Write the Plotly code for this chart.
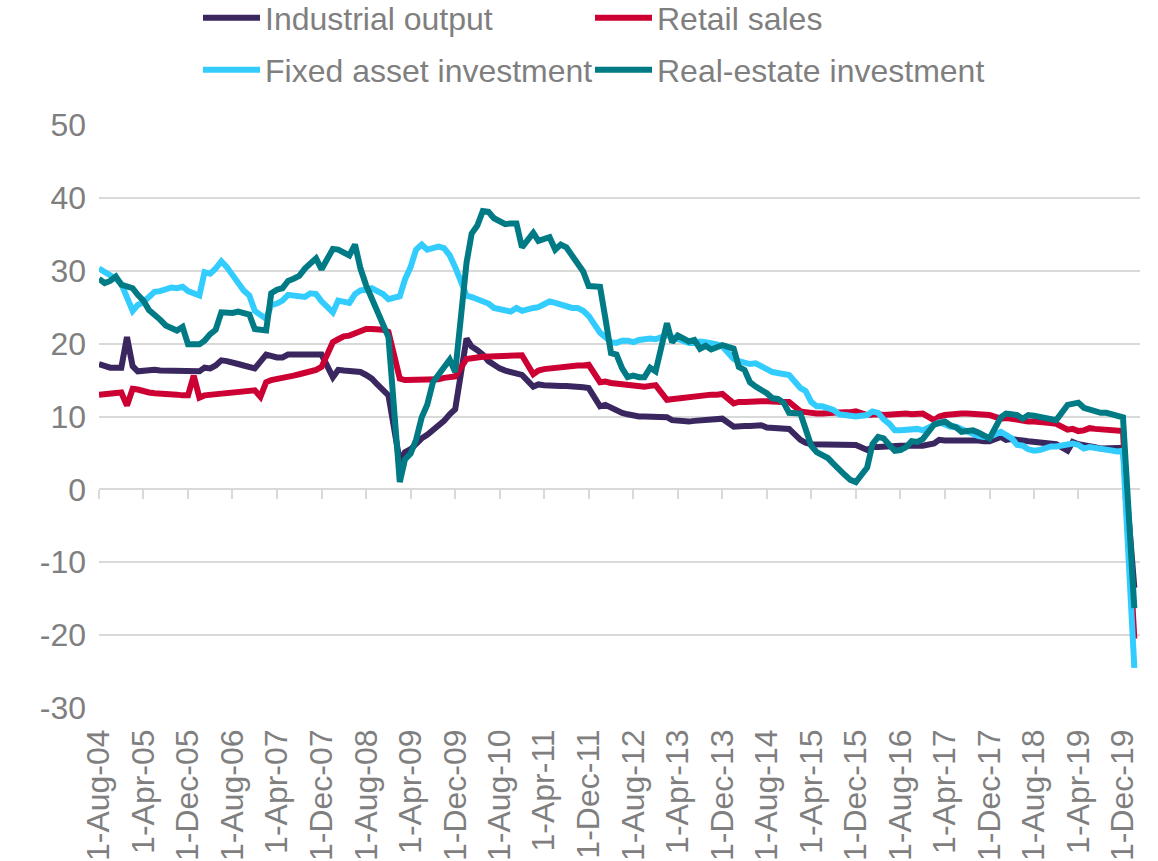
import pandas as pd
import plotly.graph_objects as go

dates = pd.date_range("2004-08-01", periods=187, freq="MS")

industrial = [
    17.2, 16.9, 16.7, 16.7, 16.7,
    20.9, 16.9, 16.2, 16.3, 16.3, 16.4, 16.3, 16.3, 16.3, 16.3, 16.4, 16.4,
    None, 16.2, 16.7, 16.6, 17.0, 17.7, 17.6, 17.3, 17.2, 17.0, 16.9, 16.6,
    None, 18.5, 18.3, 18.1, 18.1, 18.5, 18.5, 18.5, 18.5, 18.5, 18.5, 18.5,
    None, 15.4, 16.4, 16.3, 16.3, 16.3, 16.1, 15.7, 15.2, 14.4, 13.7, 12.9,
    None, 3.8, 5.1, 5.5, 6.3, 7.0, 7.5, 8.1, 8.7, 9.4, 10.3, 11.0,
    None, 20.7, 19.6, 19.1, 18.5, 17.6, 17.0, 16.6, 16.3, 16.1, 15.8, 15.7,
    None, 14.1, 14.4, 14.3, 14.2, 14.3, 14.2, 14.2, 14.2, 14.1, 14.0, 13.9,
    None, 11.4, 11.6, 11.2, 10.9, 10.5, 10.3, 10.1, 10.0, 10.0, 10.0, 10.0,
    None, 9.9, 9.5, 9.4, 9.4, 9.3, 9.4, 9.5, 9.6, 9.7, 9.7, 9.7,
    None, 8.6, 8.7, 8.7, 8.7, 8.8, 8.8, 8.5, 8.5, 8.4, 8.3, 8.3,
    None, 6.8, 6.4, 6.2, 6.2, 6.3, 6.3, 6.3, 6.2, 6.1, 6.1, 6.1,
    None, 5.4, 5.8, 5.8, 5.9, 6.0, 6.0, 6.0, 6.0, 6.0, 6.0, 6.0,
    None, 6.3, 6.8, 6.7, 6.7, 6.9, 6.8, 6.7, 6.7, 6.7, 6.6, 6.6,
    None, 7.2, 6.8, 6.9, 6.9, 6.7, 6.6, 6.5, 6.4, 6.4, 6.3, 6.2,
    None, 5.3, 6.5, 6.2, 6.0, 6.0, 5.8, 5.6, 5.6, 5.6, 5.6, 5.7,
    None, -13.5,
]

retail = [
    13.0, 13.1, 13.3, 13.4, 13.3,
    11.5, 13.8, 13.7, 13.4, 13.3, 13.2, 13.1, 13.1, 13.0, 13.0, 12.9, 12.9,
    15.6, 12.6, 12.9, 13.0, 13.1, 13.2, 13.2, 13.3, 13.3, 13.4, 13.5, 13.6,
    12.7, 14.7, 15.0, 15.1, 15.2, 15.4, 15.6, 15.8, 16.0, 16.2, 16.4, 16.8,
    None, 20.2, 20.6, 21.0, 21.1, 21.4, 21.8, 22.0, 22.0, 22.0, 21.9, 21.6,
    None, 15.2, 15.0, 15.0, 15.0, 15.0, 15.1, 15.1, 15.1, 15.3, 15.4, 15.5,
    None, 17.9, 17.9, 18.1, 18.2, 18.2, 18.2, 18.2, 18.3, 18.3, 18.4, 18.4,
    None, 15.8, 16.3, 16.5, 16.6, 16.8, 16.9, 16.9, 17.0, 17.0, 17.0, 17.1,
    None, 14.7, 14.8, 14.6, 14.5, 14.4, 14.3, 14.2, 14.1, 14.1, 14.2, 14.3,
    None, 12.3, 12.4, 12.5, 12.6, 12.7, 12.7, 12.8, 12.9, 13.0, 13.0, 13.1,
    None, 11.8, 12.0, 12.0, 12.1, 12.1, 12.1, 12.1, 12.0, 12.0, 12.0, 12.0,
    None, 10.7, 10.6, 10.4, 10.4, 10.4, 10.5, 10.5, 10.5, 10.6, 10.6, 10.7,
    None, 10.2, 10.3, 10.3, 10.2, 10.3, 10.3, 10.3, 10.4, 10.3, 10.4, 10.4,
    None, 9.5, 10.0, 10.2, 10.3, 10.4, 10.4, 10.4, 10.4, 10.3, 10.3, 10.2,
    None, 9.7, 9.8, 9.7, 9.5, 9.4, 9.3, 9.3, 9.3, 9.2, 9.1, 9.0,
    None, 8.2, 8.3, 8.0, 8.1, 8.4, 8.3, 8.2, 8.2, 8.1, 8.0, 8.0,
    None, -20.5,
]

fixed_asset = [
    30.3, 29.9, 29.5, 28.9, 28.2,
    None, 24.5, 25.3, 25.7, 26.4, 27.1, 27.2, 27.4, 27.7, 27.6, 27.8, 27.2,
    None, 26.6, 29.8, 29.6, 30.3, 31.3, 30.5, 29.3, 28.2, 27.3, 26.6, 24.5,
    None, 23.4, 25.3, 25.5, 25.9, 26.7, 26.6, 26.7, 26.4, 26.9, 26.8, 25.8,
    None, 24.3, 25.9, 25.7, 25.6, 26.8, 27.3, 27.4, 27.6, 27.2, 26.8, 26.1,
    None, 26.5, 28.8, 30.5, 32.9, 33.6, 32.9, 33.0, 33.3, 33.1, 32.1, 30.5,
    None, 26.6, 26.4, 26.1, 25.9, 25.5, 24.9, 24.8, 24.5, 24.4, 24.9, 24.5,
    None, 24.9, 25.0, 25.4, 25.8, 25.6, 25.4, 25.0, 24.9, 24.9, 24.5, 23.8,
    None, 21.5, 20.9, 20.2, 20.1, 20.4, 20.4, 20.2, 20.5, 20.7, 20.7, 20.6,
    None, 21.2, 20.9, 20.6, 20.4, 20.1, 20.1, 20.3, 20.2, 20.1, 19.9, 19.6,
    None, 17.9, 17.6, 17.3, 17.2, 17.3, 17.0, 16.5, 16.1, 15.9, 15.8, 15.7,
    None, 13.9, 13.5, 12.0, 11.4, 11.4, 11.2, 10.9, 10.3, 10.2, 10.2, 10.0,
    None, 10.2, 10.7, 10.5, 9.6, 9.0, 8.1, 8.1, 8.2, 8.3, 8.3, 8.1,
    None, 8.9, 9.2, 8.9, 8.6, 8.6, 8.3, 7.8, 7.5, 7.3, 7.2, 7.2,
    None, 7.9, 7.5, 7.0, 6.1, 6.0, 5.5, 5.3, 5.4, 5.7, 5.9, 5.9,
    None, 6.1, 6.3, 6.1, 5.6, 5.8, 5.7, 5.5, 5.4, 5.2, 5.2, 5.3,
    None, -24.5,
]

real_estate = [
    28.9, 28.3, 28.6, 29.2, 28.1,
    None, 27.6, 26.7, 25.9, 24.6, 24.0, 23.3, 22.5, 22.2, 21.8, 22.3, 19.9,
    None, 19.9, 20.4, 21.3, 21.9, 24.3, 24.2, 24.2, 24.4, 24.2, 24.0, 22.0,
    None, 21.8, 26.9, 27.4, 27.6, 28.6, 28.9, 29.3, 30.3, 31.1, 31.7, 30.2,
    None, 33.0, 32.9, 32.4, 32.1, 33.6, 30.3, 28.0, 26.2, 24.5, 22.7, 20.9,
    None, 1.0, 4.1, 4.9, 6.8, 9.9, 11.6, 14.7, 15.8, 17.0, 17.8, 16.1,
    None, 31.1, 35.1, 36.2, 38.2, 38.1, 37.2, 36.7, 36.4, 36.5, 36.5, 33.2,
    None, 35.2, 34.1, 34.3, 34.6, 32.9, 33.6, 33.2, 32.0, 31.1, 29.9, 27.9,
    None, 27.8, 23.5, 18.7, 18.5, 16.6, 15.4, 15.6, 15.4, 15.4, 16.7, 16.2,
    None, 22.8, 20.2, 21.1, 20.6, 20.3, 20.5, 19.3, 19.7, 19.2, 19.5, 19.8,
    None, 19.3, 16.8, 16.4, 14.7, 14.1, 13.7, 13.2, 12.5, 12.4, 11.9, 10.5,
    None, 10.4, 8.5, 6.0, 5.1, 4.6, 4.3, 3.5, 2.6, 2.0, 1.3, 1.0,
    None, 3.0, 6.2, 7.2, 7.0, 6.1, 5.3, 5.4, 5.8, 6.6, 6.5, 6.9,
    None, 8.9, 9.1, 9.3, 8.8, 8.5, 7.9, 7.9, 8.1, 7.8, 7.5, 7.0,
    None, 9.9, 10.4, 10.3, 10.2, 9.7, 10.2, 10.1, 9.9, 9.7, 9.7, 9.5,
    None, 11.6, 11.8, 11.9, 11.2, 10.9, 10.6, 10.5, 10.5, 10.3, 10.2, 9.9,
    None, -16.3,
]

series_names = ["Industrial output", "Retail sales", "Fixed asset investment", "Real-estate investment"]
series_values = [industrial, retail, fixed_asset, real_estate]
series_colors = ["#3b2760", "#cc0033", "#33ccff", "#007b85"]
series_legend = ["legend", "legend2", "legend3", "legend4"]

y_ticks = [-30, -20, -10, 0, 10, 20, 30, 40, 50]
y_tick_labels = ["-30", "-20", "-10", "0", "10", "20", "30", "40", "50"]

FONT = "Liberation Sans, Arial, sans-serif"
GRAY_TXT = "#7f7f7f"
GRID = "#d9d9d9"
x_range = ["2004-08-01", "2020-03-03"]

fig = go.Figure()

# invisible trace carrying the axis that crosses at zero
fig.add_trace(go.Scatter(x=dates, y=industrial, mode="lines", line=dict(width=0),
                         showlegend=False, hoverinfo="skip", xaxis="x", yaxis="y"))

for name, vals, col, lg in zip(series_names, series_values, series_colors, series_legend):
    fig.add_trace(go.Scatter(
        x=dates, y=vals, name=name, mode="lines", connectgaps=True,
        line=dict(color=col, width=6),
        xaxis="x2", yaxis="y", legend=lg,
    ))

legend_common = dict(
    orientation="h", xref="container", yref="container",
    xanchor="left", yanchor="middle", itemwidth=57,
    font=dict(family=FONT, size=32, color=GRAY_TXT),
    bgcolor="rgba(0,0,0,0)", borderwidth=0,
)
col_left, col_right = 198 / 1158, 590 / 1158
row_top, row_bottom = 1 - 18 / 861, 1 - 70 / 861

fig.update_layout(
    width=1158, height=861,
    margin=dict(l=99, r=18, t=125, b=153),
    paper_bgcolor="white", plot_bgcolor="white",
    font=dict(family=FONT, color=GRAY_TXT),
    legend=dict(legend_common, x=col_left, y=row_top),
    legend2=dict(legend_common, x=col_right, y=row_top),
    legend3=dict(legend_common, x=col_left, y=row_bottom),
    legend4=dict(legend_common, x=col_right, y=row_bottom),
    xaxis=dict(
        type="date", range=x_range, anchor="free", position=0.375,
        tick0="2004-08-01", dtick="M8", ticks="outside", ticklen=9, tickwidth=1.5,
        tickcolor=GRID, showline=True, linecolor=GRID, linewidth=1.5,
        showticklabels=False, showgrid=False, zeroline=False, layer="below traces",
        automargin=False,
    ),
    xaxis2=dict(
        type="date", range=x_range, overlaying="x", anchor="y", side="bottom",
        tick0="2004-08-01", dtick="M8", tickformat="%-d-%b-%y", tickangle=-90,
        ticks="", showline=False, showgrid=False, zeroline=False,
        ticklabelstandoff=14, automargin=False,
        tickfont=dict(family=FONT, size=32, color=GRAY_TXT),
    ),
    yaxis=dict(
        range=[-30, 50], tickvals=y_ticks, ticktext=y_tick_labels,
        showgrid=True, gridcolor=GRID, gridwidth=1.5,
        zeroline=False, showline=False, ticks="", ticklabelstandoff=12,
        automargin=False,
        tickfont=dict(family=FONT, size=32, color=GRAY_TXT),
    ),
)

fig.write_html("out.html", config={"displayModeBar": False},
               post_script="document.body.style.margin='0';")
